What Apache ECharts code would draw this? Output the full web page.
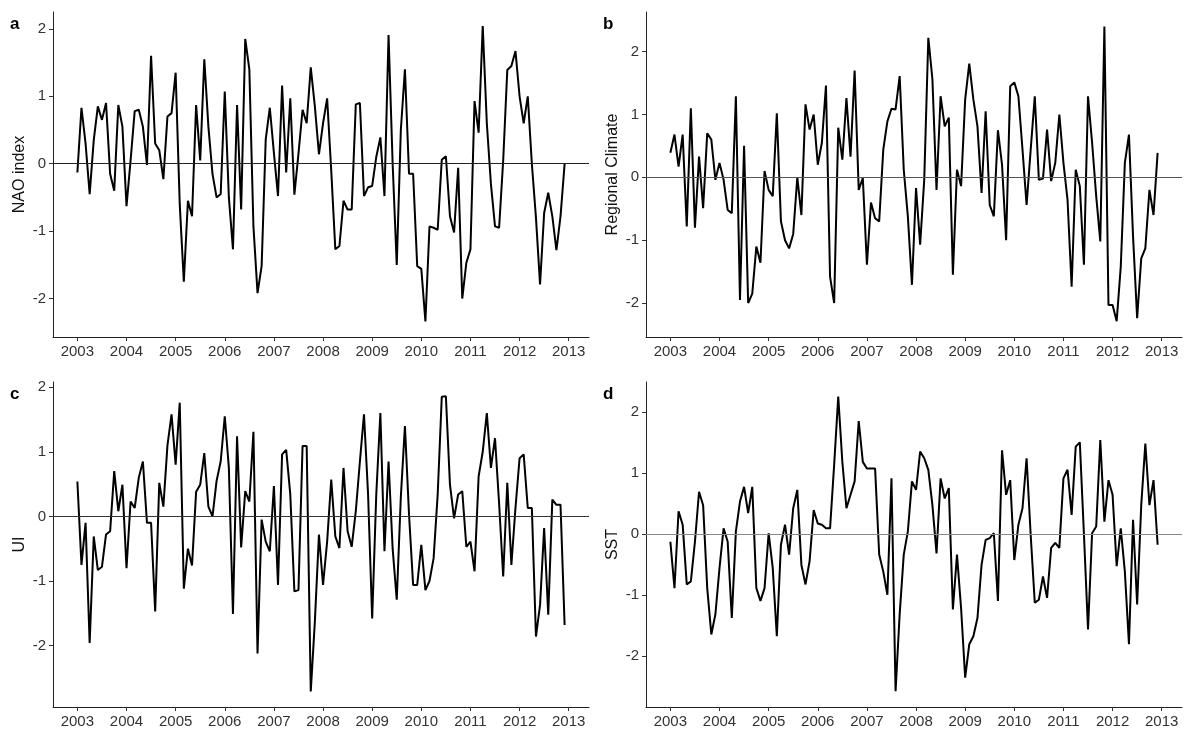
<!DOCTYPE html>
<html>
<head>
<meta charset="utf-8">
<title>Climate indices 2003-2012</title>
<script src="https://cdn.jsdelivr.net/npm/echarts@6/dist/echarts.min.js"></script>
<style>
  html, body { margin: 0; padding: 0; background: #fff; }
  #chart { width: 1184px; height: 731px; }
</style>
</head>
<body>
<div id="chart"></div>
<script>
// monthly values, Jan 2003 .. Dec 2012
const startYear = 2003;
const yearTicks = [2003, 2004, 2005, 2006, 2007, 2008, 2009, 2010, 2011, 2012, 2013];
const valueTicks = [-2, -1, 0, 1, 2];

const naoIndex = [
  -0.13, 0.83, 0.3, -0.45, 0.35, 0.85, 0.65, 0.9, -0.15, -0.4, 0.87, 0.55,
  -0.63, 0.05, 0.78, 0.8, 0.55, -0.02, 1.6, 0.3, 0.2, -0.23, 0.7, 0.75,
  1.35, -0.6, -1.75, -0.55, -0.78, 0.87, 0.05, 1.55, 0.55, -0.15, -0.5, -0.45,
  1.07, -0.5, -1.27, 0.87, -0.68, 1.85, 1.4, -0.93, -1.92, -1.52, 0.36, 0.83,
  0.16, -0.48, 1.16, -0.13, 0.97, -0.46, 0.15, 0.8, 0.6, 1.43, 0.85, 0.14,
  0.6, 0.97, -0.1, -1.27, -1.22, -0.55, -0.68, -0.68, 0.88, 0.9, -0.48, -0.35,
  -0.33, 0.1, 0.39, -0.48, 1.91, 0.0, -1.5, 0.5, 1.4, -0.15, -0.15, -1.52,
  -1.56, -2.34, -0.93, -0.95, -0.98, 0.06, 0.11, -0.78, -1.02, -0.06, -2.0, -1.47,
  -1.27, 0.93, 0.46, 2.04, 0.6, -0.3, -0.93, -0.95, 0.05, 1.39, 1.45, 1.67,
  1.0, 0.6, 1.0, 0.0, -0.8, -1.79, -0.73, -0.43, -0.78, -1.28, -0.78, 0.0
];

const regionalClimate = [
  0.39, 0.68, 0.17, 0.68, -0.78, 1.1, -0.8, 0.33, -0.49, 0.7, 0.6, -0.04,
  0.23, -0.04, -0.52, -0.57, 1.29, -1.95, 0.5, -2.0, -1.85, -1.1, -1.36, 0.1,
  -0.2, -0.3, 1.02, -0.7, -1.0, -1.13, -0.9, 0.0, -0.6, 1.16, 0.76, 1.0,
  0.2, 0.55, 1.46, -1.58, -2.0, 0.79, 0.28, 1.26, 0.33, 1.7, -0.2, -0.01,
  -1.39, -0.4, -0.65, -0.7, 0.44, 0.89, 1.09, 1.08, 1.61, 0.12, -0.62, -1.71,
  -0.17, -1.07, -0.04, 2.22, 1.56, -0.2, 1.29, 0.81, 0.95, -1.55, 0.12, -0.14,
  1.24, 1.81, 1.24, 0.81, -0.25, 1.05, -0.44, -0.62, 0.75, 0.2, -1.0, 1.45,
  1.51, 1.29, 0.44, -0.44, 0.44, 1.29, -0.04, -0.02, 0.76, -0.06, 0.23, 1.0,
  0.23, -0.36, -1.74, 0.12, -0.14, -1.39, 1.29, 0.55, -0.3, -1.02, 2.4, -2.03,
  -2.03, -2.29, -1.42, 0.23, 0.68, -0.94, -2.24, -1.29, -1.13, -0.2, -0.6, 0.39
];

const upwelling = [
  0.54, -0.75, -0.1, -1.96, -0.31, -0.83, -0.78, -0.28, -0.23, 0.7, 0.08, 0.49,
  -0.8, 0.23, 0.13, 0.6, 0.85, -0.1, -0.1, -1.47, 0.52, 0.15, 1.1, 1.58,
  0.8, 1.76, -1.12, -0.5, -0.76, 0.38, 0.49, 0.98, 0.15, 0.0, 0.55, 0.85,
  1.55, 0.75, -1.51, 1.24, -0.48, 0.39, 0.23, 1.31, -2.12, -0.05, -0.39, -0.54,
  0.47, -1.06, 0.96, 1.03, 0.34, -1.16, -1.14, 1.09, 1.09, -2.71, -1.63, -0.28,
  -1.06, -0.39, 0.57, -0.31, -0.49, 0.75, -0.23, -0.47, 0.08, 0.85, 1.58, 0.34,
  -1.58, 0.34, 1.6, -0.54, 0.85, -0.5, -1.29, 0.3, 1.4, 0.03, -1.06, -1.06,
  -0.44, -1.14, -1.0, -0.65, 0.34, 1.85, 1.86, 0.49, -0.03, 0.34, 0.39, -0.47,
  -0.39, -0.85, 0.62, 1.0, 1.6, 0.75, 1.21, 0.2, -0.93, 0.52, -0.75, 0.13,
  0.9, 0.96, 0.13, 0.13, -1.86, -1.37, -0.18, -1.52, 0.26, 0.18, 0.18, -1.68
];

const sst = [
  -0.13, -0.89, 0.37, 0.15, -0.83, -0.78, -0.13, 0.69, 0.47, -0.89, -1.65, -1.32,
  -0.56, 0.09, -0.13, -1.38, 0.04, 0.53, 0.77, 0.34, 0.77, -0.89, -1.1, -0.89,
  0.01, -0.56, -1.68, -0.18, 0.15, -0.34, 0.42, 0.72, -0.51, -0.83, -0.45, 0.39,
  0.17, 0.15, 0.09, 0.09, 1.13, 2.25, 1.18, 0.42, 0.64, 0.86, 1.85, 1.18,
  1.07, 1.07, 1.07, -0.34, -0.62, -1.0, 0.91, -2.58, -1.32, -0.34, 0.04, 0.86,
  0.72, 1.35, 1.24, 1.05, 0.47, -0.32, 0.91, 0.58, 0.75, -1.24, -0.34, -1.22,
  -2.36, -1.81, -1.68, -1.38, -0.51, -0.1, -0.07, 0.01, -1.1, 1.37, 0.64, 0.88,
  -0.43, 0.15, 0.42, 1.24, -0.02, -1.13, -1.08, -0.7, -1.05, -0.23, -0.15, -0.23,
  0.91, 1.05, 0.31, 1.43, 1.5, 0.0, -1.57, 0.01, 0.12, 1.54, 0.2, 0.88,
  0.64, -0.53, 0.09, -0.62, -1.81, 0.23, -1.16, 0.47, 1.48, 0.47, 0.88, -0.18
];

const font = '"Liberation Sans", Arial, sans-serif';

const panels = [
  { letter: 'a', name: 'NAO index', data: naoIndex, left: 53, top: 12, yMin: -2.57, yMax: 2.25, zero: '#222' },
  { letter: 'b', name: 'Regional Climate', data: regionalClimate, left: 646, top: 12, yMin: -2.54, yMax: 2.63, zero: '#555' },
  { letter: 'c', name: 'UI', data: upwelling, left: 53, top: 382, yMin: -2.95, yMax: 2.08, zero: '#333' },
  { letter: 'd', name: 'SST', data: sst, left: 646, top: 382, yMin: -2.84, yMax: 2.49, zero: '#888' }
];

function toPoints(values) {
  return values.map((v, i) => [startYear + i / 12, v]);
}

const grid = [], xAxis = [], yAxis = [], series = [], graphic = [];

panels.forEach((p, k) => {
  grid.push({ left: p.left, top: p.top, width: 536, height: 325 });
  xAxis.push({
    type: 'value', gridIndex: k, min: 2002.504, max: 2013.413,
    splitLine: { show: false },
    axisLine: { onZero: false, lineStyle: { color: '#222', width: 1 } },
    axisTick: { customValues: yearTicks, length: 4, lineStyle: { color: '#333' } },
    axisLabel: {
      customValues: yearTicks, formatter: v => String(Math.round(v)),
      color: '#333', fontSize: 15, fontFamily: font, margin: 7
    }
  });
  yAxis.push({
    type: 'value', gridIndex: k, min: p.yMin, max: p.yMax,
    name: p.name, nameLocation: 'middle', nameGap: 25, nameRotate: 90,
    nameTextStyle: { color: '#111', fontSize: 16, fontFamily: font },
    splitLine: { show: false },
    axisLine: { show: true, onZero: false, lineStyle: { color: '#222', width: 1 } },
    axisTick: { show: true, customValues: valueTicks, length: 4, lineStyle: { color: '#333' } },
    axisLabel: {
      customValues: valueTicks, formatter: v => String(Math.round(v)),
      color: '#333', fontSize: 15, fontFamily: font, margin: 7
    }
  });
  series.push({
    type: 'line', xAxisIndex: k, yAxisIndex: k,
    data: toPoints(p.data),
    showSymbol: false,
    lineStyle: { color: '#000', width: 2 },
    markLine: {
      silent: true, symbol: 'none', label: { show: false },
      lineStyle: { color: p.zero, width: 1, type: 'solid' },
      data: [{ yAxis: 0 }]
    }
  });
  graphic.push({
    type: 'text', left: p.left - 43, top: p.top + 4,
    style: { text: p.letter, font: 'bold 17px ' + font, fill: '#000' }
  });
});

const chart = echarts.init(document.getElementById('chart'));
chart.setOption({
  animation: false,
  backgroundColor: '#fff',
  grid, xAxis, yAxis, series, graphic
});
</script>
</body>
</html>
